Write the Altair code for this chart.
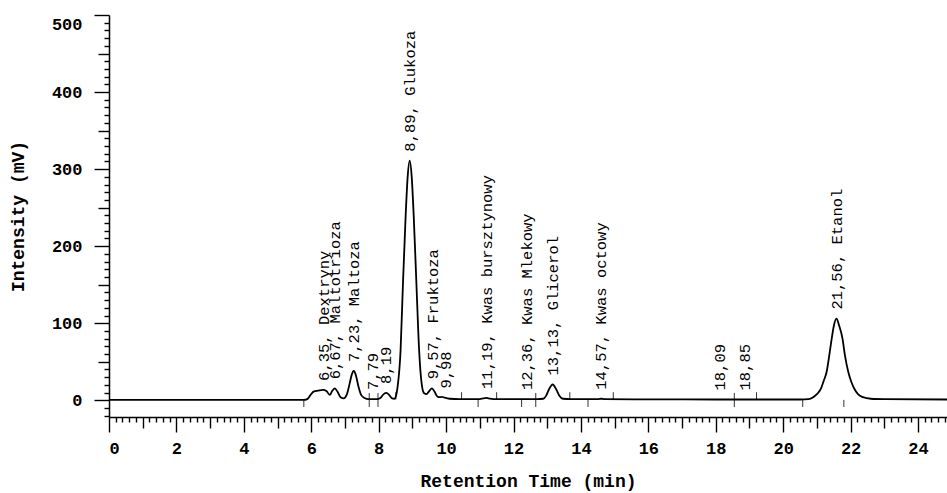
import altair as alt
import pandas as pd

# ---- chromatogram trace (retention time in min, intensity in mV) ----
trace_time = [0.0, 3.0, 5.78, 5.88, 5.98, 6.08, 6.20, 6.35, 6.45, 6.55, 6.62, 6.70, 6.78, 6.88,
              6.96, 7.05, 7.13, 7.20, 7.26, 7.32, 7.40, 7.48, 7.58, 7.70, 7.95, 8.05, 8.15, 8.23,
              8.31, 8.40, 8.47, 8.51, 8.56, 8.65, 8.72, 8.80, 8.86, 8.92, 8.98, 9.04, 9.12, 9.20,
              9.28, 9.35, 9.42, 9.50, 9.58, 9.66, 9.74, 9.82, 9.88, 9.95, 10.10, 10.40, 11.00,
              11.10, 11.20, 11.30, 11.50, 12.70, 12.88, 12.97, 13.05, 13.16, 13.27, 13.36, 13.47,
              13.70, 14.50, 14.60, 14.70, 16.00, 18.00, 20.50, 20.75, 20.89, 21.00, 21.12, 21.20,
              21.29, 21.37, 21.44, 21.51, 21.58, 21.66, 21.76, 21.83, 21.93, 22.02, 22.11, 22.22,
              22.37, 22.60, 23.00, 24.86]
trace_mv = [0.5, 0.5, 0.5, 1.5, 7.0, 11.5, 12.5, 13.5, 12.0, 7.0, 12.0, 15.5, 11.0, 3.5,
            2.5, 7.0, 20.0, 33.0, 38.0, 33.0, 18.0, 7.0, 3.0, 1.5, 1.5, 3.0, 8.0, 9.5,
            7.0, 2.5, 2.0, 5.0, 17.0, 65.0, 151.0, 239.0, 290.0, 311.0, 290.0, 239.0, 151.0, 65.0,
            20.0, 9.0, 8.0, 12.0, 15.5, 11.0, 5.0, 4.0, 4.5, 3.5, 2.0, 1.5, 1.5,
            2.5, 3.0, 2.2, 1.5, 1.5, 2.0, 6.0, 14.0, 20.5, 14.0, 6.0, 2.0,
            1.5, 1.5, 2.0, 1.5, 1.2, 1.0, 1.0, 1.5, 4.0, 8.0, 15.0, 25.0,
            37.0, 59.0, 80.0, 98.0, 106.0, 97.0, 80.0, 59.0, 37.0, 24.0, 15.0, 8.0,
            4.0, 2.0, 1.5, 1.0]

# ---- peak annotations ----
peak_time = [6.35, 6.67, 7.23, 7.79, 8.19, 8.89, 9.57, 9.98, 11.19, 12.36, 13.13, 14.57,
             18.09, 18.85, 21.56]
peak_name = ["Dextryny", "Maltotrioza", "Maltoza", "", "", "Glukoza", "Fruktoza", "",
             "Kwas bursztynowy", "Kwas Mlekowy", "Glicerol", "Kwas octowy", "", "", "Etanol"]
peak_height = [13.5, 15.5, 38.0, 1.5, 9.5, 311.0, 15.5, 3.5, 3.0, 1.5, 20.5, 2.0,
               1.0, 1.0, 106.0]

# ---- integration markers on the baseline ----
marker_time = [5.78, 7.72, 7.98, 8.51, 10.46, 10.95, 11.50, 12.24, 12.66, 13.67, 14.21,
               14.96, 18.55, 19.21, 20.58, 21.80]
marker_kind = ["below", "cross", "cross", "above", "above", "below", "above", "below",
               "cross", "above", "below", "above", "cross", "above", "below", "below"]

# ---- axis ticks ----
x_ticks = [round(i * 0.2, 1) for i in range(125)]
y_ticks = list(range(-20, 501, 10))

trace_df = pd.DataFrame({"t": trace_time, "v": trace_mv})
label_text = [
    (f"{t:.2f}".replace(".", ",") + (f", {n}" if n else ""))
    for t, n in zip(peak_time, peak_name)
]
label_df = pd.DataFrame({"t": peak_time, "v": peak_height, "label": label_text})
extent = {"above": (1.0, 10.5), "below": (-8.7, 0.5), "cross": (-8.7, 9.5)}
marker_df = pd.DataFrame({
    "t": marker_time,
    "v": [extent[k][0] for k in marker_kind],
    "v2": [extent[k][1] for k in marker_kind],
})

FONT = "Liberation Mono"
x_even = "abs(datum.value / 2 - round(datum.value / 2)) < 0.001"
x_int = "abs(datum.value - round(datum.value)) < 0.001"
y_hund = "abs(datum.value / 100 - round(datum.value / 100)) < 0.001"
y_fifty = "abs(datum.value / 50 - round(datum.value / 50)) < 0.001"

axis_common = dict(
    grid=False, domainColor="black", domainWidth=1.5, tickColor="black", tickWidth=1.4,
    labelFont=FONT, labelFontWeight="bold", labelFontSize=17, labelColor="black",
    titleFont=FONT, titleFontWeight="bold", titleFontSize=18, titleColor="black",
    labelOverlap=False,
)

x_enc = alt.X(
    "t:Q",
    scale=alt.Scale(domain=[0, 24.86], nice=False, zero=False),
    axis=alt.Axis(
        values=x_ticks, title="Retention Time (min)",
        labelExpr=f"{x_even} ? format(datum.value, 'd') : ''",
        tickSize={"condition": [{"test": x_even, "value": 15}, {"test": x_int, "value": 11}], "value": 5},
        labelPadding=16, labelBaseline="middle", labelFlush=True,
        titleX=419, titleY=64, titleBaseline="middle", titleAlign="center",
        **axis_common,
    ),
)
y_enc = alt.Y(
    "v:Q",
    scale=alt.Scale(domain=[-21.7, 500], nice=False, zero=False),
    axis=alt.Axis(
        values=y_ticks, title="Intensity (mV)",
        labelExpr=f"datum.value >= 0 && {y_hund} ? format(datum.value, 'd') : ''",
        tickSize={"condition": [{"test": y_hund, "value": 15}, {"test": y_fifty, "value": 11}], "value": 5},
        labelOffset={"condition": {"test": "datum.value == 500", "value": 9}, "value": 0},
        labelPadding=12, labelBaseline="middle",
        titleX=-91, titleY=201, titleBaseline="middle", titleAlign="center", titleAngle=270,
        **axis_common,
    ),
)

markers = alt.Chart(marker_df).mark_rule(color="#333333", strokeWidth=1).encode(
    x=x_enc, y=y_enc, y2="v2:Q"
)
trace = alt.Chart(trace_df).mark_line(
    color="black", strokeWidth=1.8, interpolate="monotone"
).encode(x=x_enc, y=y_enc)
labels = alt.Chart(label_df).mark_text(
    font=FONT, fontSize=15.5, angle=270, align="left", baseline="middle",
    dx=9, dy=1, color="black"
).encode(x=x_enc, y=y_enc, text="label:N")

chart = alt.layer(markers, trace, labels).properties(
    width=838, height=402, autosize="none",
    padding={"left": 109, "top": 15, "right": 0, "bottom": 76},
    background="white",
).configure_view(stroke=None)

chart.save("out.html", embed_options={"renderer": "svg", "actions": False})
